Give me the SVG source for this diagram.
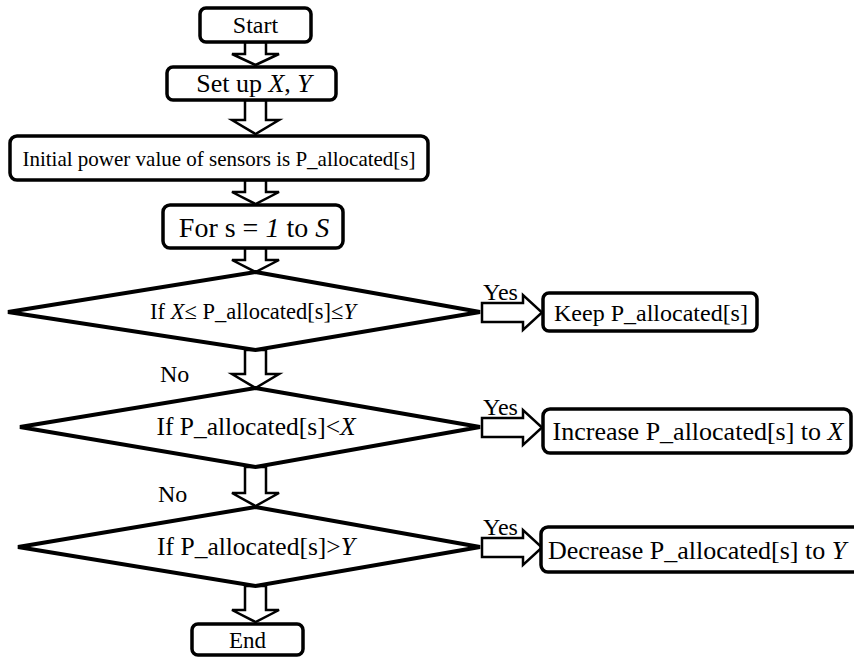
<svg xmlns="http://www.w3.org/2000/svg" width="854" height="657" viewBox="0 0 854 657" font-family="'Liberation Serif', 'Times New Roman', serif">
<style>
.box{fill:#fff;stroke:#000;stroke-width:3.5}
.dia{fill:#fff;stroke:#000;stroke-width:4;stroke-linejoin:miter}
.arr{fill:#fff;stroke:#000;stroke-width:2.5;stroke-linejoin:miter}
text{font-family:'Liberation Serif','Times New Roman',serif;fill:#000}
.c{text-anchor:middle}
</style>
<rect width="854" height="657" fill="#fff"/>
<g id="connectors">
<polygon class="arr" points="245,42 266,42 266,54 279,54 255.5,65 232,54 245,54"/>
<polygon class="arr" points="245,100 266,100 266,120 279,120 255.5,134 232,120 245,120"/>
<polygon class="arr" points="245,180 266,180 266,192 279,192 255.5,204 232,192 245,192"/>
<polygon class="arr" points="245,248 266,248 266,260 279,260 255.5,272 232,260 245,260"/>
<polygon class="arr" points="245,350 266,350 266,374 279,374 255.5,388 232,374 245,374"/>
<polygon class="arr" points="245,467 266,467 266,493 279,493 255.5,506 232,493 245,493"/>
<polygon class="arr" points="245,586 266,586 266,610 279,610 255.5,622 232,610 245,610"/>
<polygon class="arr" points="482,303 523,303 523,295 542,312.5 523,330 523,322 482,322"/>
<polygon class="arr" points="482,418 523,418 523,410 542,427.5 523,445 523,437 482,437"/>
<polygon class="arr" points="482,538 523,538 523,530 542,547.5 523,565 523,557 482,557"/>
<text x="483" y="300" font-size="24">Yes</text>
<text x="483" y="415" font-size="24">Yes</text>
<text x="483" y="535" font-size="24">Yes</text>
<text x="160" y="382" font-size="24">No</text>
<text x="158" y="502" font-size="24">No</text>
</g>
<g id="start">
<rect class="box" x="200" y="8" width="111" height="34" rx="6"/>
<text class="c" x="255.5" y="33" font-size="24">Start</text>
</g>
<g id="setup">
<rect class="box" x="167" y="67" width="169" height="33" rx="6"/>
<text class="c" x="254" y="92" font-size="26">Set up <tspan font-style="italic">X</tspan>, <tspan font-style="italic">Y</tspan></text>
</g>
<g id="initial">
<rect class="box" x="10" y="136" width="418" height="44" rx="7"/>
<text class="c" x="219" y="166" font-size="21">Initial power value of sensors is P_allocated[s]</text>
</g>
<g id="for">
<rect class="box" x="163" y="205" width="180" height="43" rx="7"/>
<text class="c" x="254" y="237" font-size="28">For s = <tspan font-style="italic">1</tspan> to <tspan font-style="italic">S</tspan></text>
</g>
<g id="dec1">
<polygon class="dia" points="255.5,272 480,312 255.5,350 8,312"/>
<text class="c" x="253" y="319" font-size="22.5">If <tspan font-style="italic">X</tspan>≤ P_allocated[s]≤<tspan font-style="italic">Y</tspan></text>
</g>
<g id="keep">
<rect class="box" x="543" y="293" width="214" height="38" rx="6"/>
<text class="c" x="651" y="321" font-size="24">Keep P_allocated[s]</text>
</g>
<g id="dec2">
<polygon class="dia" points="255.5,388 480,427 255.5,467 20,427"/>
<text class="c" x="256" y="435" font-size="25.5">If P_allocated[s]&lt;<tspan font-style="italic">X</tspan></text>
</g>
<g id="increase">
<rect class="box" x="543" y="409" width="308" height="44" rx="7"/>
<text class="c" x="698" y="440" font-size="26">Increase P_allocated[s] to <tspan font-style="italic">X</tspan></text>
</g>
<g id="dec3">
<polygon class="dia" points="255.5,507 480,547 255.5,586 18,547"/>
<text class="c" x="256" y="555" font-size="25.5">If P_allocated[s]&gt;<tspan font-style="italic">Y</tspan></text>
</g>
<g id="decrease">
<rect class="box" x="541" y="527" width="330" height="45" rx="7"/>
<text x="548" y="559" font-size="26">Decrease P_allocated[s] to <tspan font-style="italic">Y</tspan></text>
</g>
<g id="end">
<rect class="box" x="192" y="624" width="111" height="31" rx="6"/>
<text class="c" x="247.5" y="648" font-size="23">End</text>
</g>
</svg>
